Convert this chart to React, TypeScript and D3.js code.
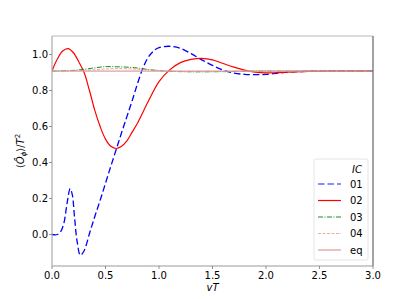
import React from "react";
import * as d3 from "d3";

const vt01 = [0, 0.05, 0.08, 0.11, 0.14, 0.17, 0.19, 0.21, 0.235, 0.265, 0.3, 0.355, 0.4, 0.45, 0.5, 0.55, 0.6, 0.65, 0.7, 0.75, 0.8, 0.85, 0.9, 0.95, 1.0, 1.1, 1.2, 1.3, 1.4, 1.5, 1.6, 1.7, 1.8, 1.9, 2.0, 2.1, 2.2, 2.3, 2.4, 2.6, 3.0];
const val01 = [0, 0.0, 0.015, 0.06, 0.17, 0.255, 0.22, 0.1, -0.04, -0.115, -0.09, 0.015, 0.1, 0.19, 0.285, 0.38, 0.472, 0.565, 0.655, 0.745, 0.84, 0.925, 0.985, 1.02, 1.038, 1.046, 1.035, 1.005, 0.97, 0.94, 0.913, 0.897, 0.89, 0.888, 0.89, 0.896, 0.902, 0.905, 0.907, 0.908, 0.908];

const vt02 = [0, 0.05, 0.1, 0.15, 0.2, 0.25, 0.3, 0.35, 0.4, 0.45, 0.5, 0.55, 0.6, 0.65, 0.7, 0.75, 0.8, 0.9, 1.0, 1.1, 1.2, 1.3, 1.4, 1.5, 1.6, 1.7, 1.8, 1.9, 2.0, 2.1, 2.2, 2.4, 2.6, 3.0];
const val02 = [0.909, 0.975, 1.02, 1.033, 1.01, 0.96, 0.9, 0.8, 0.69, 0.6, 0.53, 0.49, 0.478, 0.49, 0.52, 0.57, 0.62, 0.74, 0.85, 0.915, 0.955, 0.973, 0.979, 0.97, 0.95, 0.93, 0.913, 0.902, 0.898, 0.899, 0.902, 0.906, 0.908, 0.908];

const vt03 = [0, 0.2, 0.3, 0.4, 0.5, 0.6, 0.7, 0.8, 0.9, 1.0, 1.2, 1.4, 1.6, 1.8, 2.0, 3.0];
const val03 = [0.908, 0.912, 0.918, 0.926, 0.933, 0.932, 0.93, 0.925, 0.917, 0.91, 0.905, 0.904, 0.905, 0.907, 0.908, 0.908];

const vt04 = [0, 0.3, 0.6, 0.9, 1.2, 1.6, 2.0, 3.0];
const val04 = [0.908, 0.912, 0.922, 0.915, 0.906, 0.906, 0.908, 0.908];

const vtEq = [0, 3.0];
const valEq = [0.908, 0.908];

const labels = ["01", "02", "03", "04", "eq"];
const xTicks = [0, 0.5, 1.0, 1.5, 2.0, 2.5, 3.0];
const yTicks = [0, 0.2, 0.4, 0.6, 0.8, 1.0];

const styles = [
  { color: "#0000ff", width: 1.3, dash: "6.5,3", opacity: 1 },
  { color: "#ff0000", width: 1.2, dash: "", opacity: 1 },
  { color: "#008000", width: 0.9, dash: "5,1.5,1,1.5", opacity: 1 },
  { color: "#f08080", width: 0.9, dash: "3,1.5", opacity: 0.8 },
  { color: "#d9a0a0", width: 1.8, dash: "", opacity: 0.7 },
];

export default function App() {
  const W = 415, H = 299;
  const left = 52, right = 373, top = 36, bottom = 266;
  const x = d3.scaleLinear().domain([0, 3]).range([left, right]);
  const y = d3.scaleLinear().domain([-0.175, 1.103]).range([bottom, top]);
  const line = d3
    .line<[number, number]>()
    .x((d) => x(d[0]))
    .y((d) => y(d[1]))
    .curve(d3.curveCatmullRom.alpha(0.5));

  const series = [
    d3.zip(vt01, val01),
    d3.zip(vt02, val02),
    d3.zip(vt03, val03),
    d3.zip(vt04, val04),
    d3.zip(vtEq, valEq),
  ] as [number, number][][];

  const font = "DejaVu Sans, sans-serif";
  const legX = 314, legY = 159;

  return (
    <div style={{ position: "absolute", left: 0, top: 0 }}>
      <svg width={W} height={H} style={{ display: "block", background: "#fff" }} fontFamily={font}>
        <defs>
          <clipPath id="plot">
            <rect x={left} y={top} width={right - left} height={bottom - top} />
          </clipPath>
        </defs>
        <g clipPath="url(#plot)">
          {series.map((s, i) => (
            <path
              key={i}
              d={line(s) || ""}
              fill="none"
              stroke={styles[i].color}
              strokeWidth={styles[i].width}
              strokeDasharray={styles[i].dash}
              strokeOpacity={styles[i].opacity}
            />
          ))}
        </g>
        {/* spines */}
        <line x1={left} x2={right} y1={top} y2={top} stroke="#bbbbbb" strokeWidth={1.2} />
        <line x1={right} x2={right} y1={top} y2={bottom} stroke="#666666" strokeWidth={1.2} />
        <line x1={left} x2={left} y1={top} y2={bottom} stroke="#aaaaaa" strokeWidth={1.2} />
        <line x1={left} x2={right} y1={bottom} y2={bottom} stroke="#999999" strokeWidth={1.2} />
        {xTicks.map((t) => (
          <g key={t}>
            <line x1={x(t)} x2={x(t)} y1={bottom} y2={bottom + 3} stroke="#777" strokeWidth={0.8} />
            <text x={x(t)} y={279} textAnchor="middle" fontSize={10} fill="#000">
              {t.toFixed(1)}
            </text>
          </g>
        ))}
        {yTicks.map((t) => (
          <g key={t}>
            <line x1={left - 3} x2={left} y1={y(t)} y2={y(t)} stroke="#777" strokeWidth={0.8} />
            <text x={48} y={y(t) + 3.6} textAnchor="end" fontSize={10} fill="#000">
              {t.toFixed(1)}
            </text>
          </g>
        ))}
        <text x={x(1.5)} y={291} textAnchor="middle" fontSize={10} fontStyle="italic">
          vT
        </text>
        <text transform={`translate(24,${(top + bottom) / 2}) rotate(-90)`} textAnchor="middle" fontSize={10}>
          ⟨<tspan fontStyle="italic">Ô</tspan>
          <tspan fontSize={7} fontStyle="italic" dy={2}>ϕ</tspan>
          <tspan dy={-2}>⟩/</tspan>
          <tspan fontStyle="italic">T</tspan>
          <tspan fontSize={7} dy={-4}>2</tspan>
        </text>
        {/* legend */}
        <rect x={legX} y={legY} width={54} height={101} rx={2} fill="#fff" fillOpacity={0.8} stroke="#dddddd" strokeWidth={0.8} />
        <text x={357} y={172.5} textAnchor="middle" fontSize={10} fontStyle="italic">
          IC
        </text>
        {labels.map((l, i) => {
          const ly = 184 + i * 16.5;
          return (
            <g key={l}>
              <line
                x1={318}
                x2={341}
                y1={ly}
                y2={ly}
                stroke={styles[i].color}
                strokeWidth={styles[i].width}
                strokeDasharray={styles[i].dash}
                strokeOpacity={i === 0 ? 0.6 : styles[i].opacity}
              />
              <text x={350} y={ly + 3.6} fontSize={10}>
                {l}
              </text>
            </g>
          );
        })}
      </svg>
    </div>
  );
}
